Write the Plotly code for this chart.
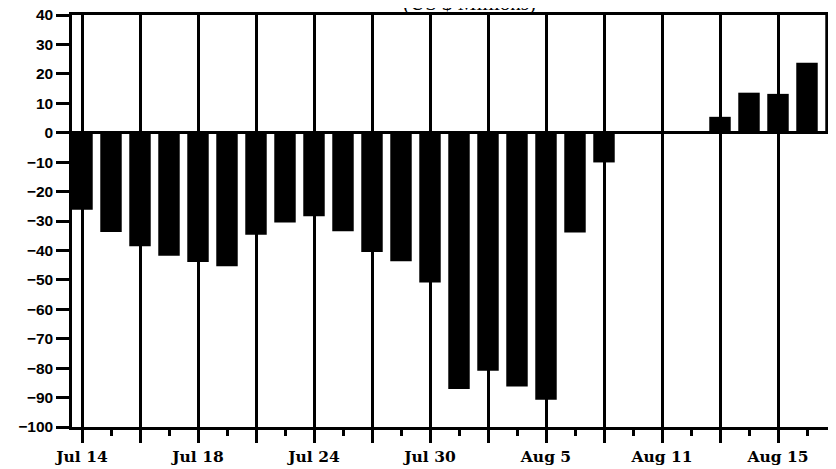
import plotly.graph_objects as go

# trading days shown on the chart
dates = ["Jul 14", "Jul 15", "Jul 16", "Jul 17", "Jul 18", "Jul 21", "Jul 22",
         "Jul 23", "Jul 24", "Jul 25", "Jul 28", "Jul 29", "Jul 30", "Jul 31",
         "Aug 1", "Aug 4", "Aug 5", "Aug 6", "Aug 7", "Aug 8", "Aug 11",
         "Aug 12", "Aug 13", "Aug 14", "Aug 15", "Aug 18", "Aug 19"]
# net flow, US$ millions
flows = [-26.2, -33.7, -38.6, -41.8, -43.9, -45.4, -34.7, -30.5, -28.4,
         -33.5, -40.5, -43.7, -50.9, -87.1, -80.9, -86.2, -90.7, -33.9,
         -10.1, 0, 0, 0, 5.4, 13.6, 13.2, 23.8, 45.0]
y_ticks = list(range(-100, 41, 10))

idx = list(range(len(dates)))
major = idx[::2]
minor = idx[1::2]
major_text = [dates[i] if i % 4 == 0 else "" for i in major]

fig = go.Figure(go.Bar(
    x=idx, y=flows,
    marker=dict(color="black", line=dict(width=0)),
    width=0.74,
))

# heading of the scanned page, mostly cut off at the top
fig.add_annotation(
    text="(US $ Millions)", x=0.52, y=1, xref="paper", yref="paper",
    xanchor="center", yanchor="bottom", yshift=-2, showarrow=False,
    font=dict(family="Liberation Serif", size=21, color="black"),
)

# page body keeps an 8px margin, so the figure is a bit smaller than the window
fig.update_layout(
    width=828, height=461,
    margin=dict(l=64, r=0, t=7, b=42),
    paper_bgcolor="white", plot_bgcolor="white",
    showlegend=False,
    bargap=0.26,
)
fig.update_xaxes(
    range=[-0.345, 26.0], automargin=False,
    tickmode="array", tickvals=major, ticktext=major_text,
    ticks="outside", ticklen=13, tickwidth=2.5, tickcolor="black",
    minor=dict(tickmode="array", tickvals=minor, ticks="outside",
               ticklen=6, tickwidth=2.5, tickcolor="black", showgrid=False),
    showgrid=True, gridcolor="black", gridwidth=2.5,
    showline=True, linecolor="black", linewidth=2.5, mirror=True,
    zeroline=False, ticklabelstandoff=1,
    tickfont=dict(family="DejaVu Serif", size=15.5, color="black", weight="bold"),
)
fig.update_yaxes(
    range=[-100, 40], automargin=False,
    tickmode="array", tickvals=y_ticks,
    ticks="outside", ticklen=13, tickwidth=2.5, tickcolor="black",
    showgrid=False, ticklabeloverflow="allow",
    zeroline=True, zerolinecolor="black", zerolinewidth=2.5,
    showline=True, linecolor="black", linewidth=2.5,
    tickfont=dict(family="Liberation Sans", size=15.5, color="black", weight="bold"),
)

fig.write_html("out.html")
